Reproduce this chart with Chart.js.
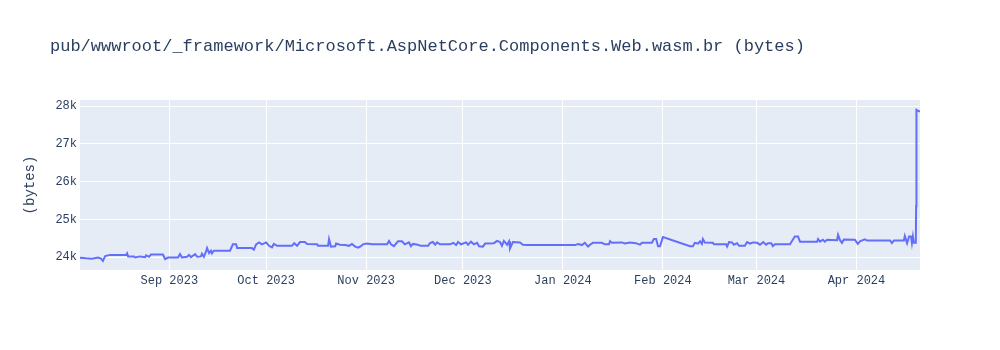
<!DOCTYPE html>
<html>
<head>
<meta charset="utf-8">
<script src="https://cdn.jsdelivr.net/npm/chart.js@4.4.1/dist/chart.umd.min.js"></script>
<style>
  body { margin: 0; background: #fff; }
</style>
</head>
<body>
<canvas id="chart-size" width="1000" height="350"></canvas>
<script>
const titleText = "pub/wwwroot/_framework/Microsoft.AspNetCore.Components.Web.wasm.br (bytes)";
const yTitle = "(bytes)";
const startDate = "2023-08-04";
const monthTicks = ["2023-09-01", "2023-10-01", "2023-11-01", "2023-12-01", "2024-01-01", "2024-02-01", "2024-03-01", "2024-04-01"];
const monthNames = ["Jan", "Feb", "Mar", "Apr", "May", "Jun", "Jul", "Aug", "Sep", "Oct", "Nov", "Dec"];
const yTicks = [24000, 25000, 26000, 27000, 28000];

// days since startDate
const days = [
  0.3, 2.2, 4, 5.9, 6.8, 7.4, 8.1, 9.6, 14.6, 14.9,
  15.2, 17, 17.4, 18.9, 20.5, 20.8, 21.7, 22.3, 26, 26.7,
  27.6, 30.7, 31.3, 31.9, 33.5, 34.1, 34.7, 36, 36.6, 37.8,
  38.1, 38.7, 39.4, 39.7, 40.3, 40.9, 41.2, 41.8, 46.8, 47.7,
  48.7, 49, 53.6, 54.2, 54.9, 55.8, 56.7, 58, 58.9, 59.8,
  60.4, 61.4, 66, 66.7, 67.6, 68.5, 70, 70.7, 73.8, 74.1,
  77.2, 77.5, 78.1, 79.4, 79.7, 80.9, 82.5, 83.7, 84.6, 85.6,
  86.5, 87.4, 88, 89.3, 90.8, 95.5, 96.1, 96.7, 97.6, 98.9,
  100.1, 101, 102.3, 102.9, 103.5, 105, 106, 108.2, 108.8, 109.7,
  110.4, 111, 111.9, 115, 116, 116.9, 117.5, 118.4, 120, 120.6,
  121.5, 122.4, 123.4, 124, 125.2, 125.9, 128.6, 129.6, 130.5, 131.1,
  131.7, 132.7, 133.3, 133.6, 134.5, 136.7, 137.6, 138.9, 153.8, 154.7,
  155.9, 156.8, 157.8, 158.4, 159.3, 162.1, 163, 164.3, 164.6, 165.2,
  168.3, 169.2, 170.8, 172.6, 173.9, 174.5, 177.6, 178.2, 178.9, 179.5,
  180.1, 181, 189.4, 190.3, 190.9, 191.9, 192.5, 193.1, 193.4, 194,
  196.5, 196.8, 200.6, 200.9, 201.5, 202.4, 203, 204, 204.6, 206.4,
  207.1, 208, 209, 210.2, 211.1, 212.1, 213, 213.6, 214.6, 215.1,
  215.7, 220.4, 221.9, 222.9, 223.5, 228.8, 229.1, 229.7, 230.6, 231.2,
  231.9, 235, 235.3, 235.9, 236.5, 237.1, 240.5, 241.4, 242.1, 243.6,
  244.3, 251.4, 252, 252.6, 255.7, 256, 256.7, 257.3, 257.9, 258.2,
  258.5, 258.8, 259.4, 259.5, 259.6, 260, 260.7
];

const sizes = [
  23985, 23970, 23960, 23990, 23960, 23900, 24030, 24060, 24060, 24100,
  24020, 24020, 23990, 24020, 24000, 24050, 24010, 24070, 24070, 23950,
  23990, 23990, 24080, 23990, 24010, 24060, 24000, 24080, 24010, 24020,
  24090, 24010, 24160, 24240, 24110, 24170, 24100, 24170, 24170, 24340,
  24340, 24240, 24240, 24200, 24340, 24390, 24340, 24390, 24300, 24260,
  24350, 24300, 24300, 24370, 24300, 24400, 24400, 24350, 24340, 24300,
  24300, 24480, 24280, 24290, 24360, 24330, 24320, 24300, 24350, 24280,
  24250, 24290, 24340, 24360, 24340, 24340, 24430, 24340, 24290, 24420,
  24420, 24340, 24390, 24290, 24350, 24330, 24300, 24300, 24370, 24400,
  24330, 24390, 24340, 24340, 24380, 24320, 24400, 24340, 24390, 24330,
  24410, 24340, 24380, 24290, 24280, 24360, 24370, 24430, 24400, 24300,
  24430, 24330, 24420, 24230, 24400, 24390, 24330, 24320, 24320, 24350,
  24320, 24380, 24280, 24330, 24380, 24380, 24340, 24340, 24420, 24380,
  24390, 24360, 24390, 24370, 24330, 24380, 24380, 24480, 24480, 24290,
  24290, 24530, 24290, 24290, 24380, 24360, 24420, 24350, 24480, 24390,
  24380, 24340, 24340, 24280, 24400, 24390, 24330, 24370, 24300, 24300,
  24400, 24360, 24390, 24380, 24330, 24400, 24330, 24370, 24370, 24290,
  24340, 24340, 24545, 24545, 24410, 24410, 24480, 24410, 24460, 24410,
  24460, 24450, 24590, 24450, 24380, 24470, 24460, 24350, 24420, 24470,
  24440, 24440, 24370, 24440, 24440, 24560, 24370, 24550, 24550, 24370,
  24550, 24380, 24380, 25350, 27900, 27880, 27850
];

const DAY = 86400000;
const t0 = Date.parse(startDate + "T00:00:00Z");
const points = days.map((d, i) => ({ x: t0 + d * DAY, y: sizes[i] }));
const tickValues = monthTicks.map((s) => Date.parse(s + "T00:00:00Z"));

const textColor = "#2a3f5f";
const fontFamily = "'Liberation Mono', 'Courier New', monospace";

const plotBackground = {
  id: "plotBackground",
  beforeDraw(chart) {
    const { ctx, chartArea } = chart;
    ctx.save();
    ctx.fillStyle = "#e5ecf6";
    ctx.fillRect(chartArea.left, chartArea.top, chartArea.right - chartArea.left, chartArea.bottom - chartArea.top);
    ctx.restore();
  },
  afterDraw(chart) {
    const { ctx, chartArea } = chart;
    ctx.save();
    ctx.fillStyle = textColor;
    ctx.font = "17px " + fontFamily;
    ctx.textBaseline = "middle";
    ctx.textAlign = "left";
    ctx.fillText(titleText, 50, 46);
    ctx.font = "14px " + fontFamily;
    ctx.translate(30, (chartArea.top + chartArea.bottom) / 2);
    ctx.rotate(-Math.PI / 2);
    ctx.textAlign = "center";
    ctx.fillText(yTitle, 0, 0);
    ctx.restore();
  },
};

const ctx = document.getElementById("chart-size").getContext("2d");
const sizeChart = new Chart(ctx, {
  type: "line",
  data: {
    datasets: [
      {
        label: "size",
        data: points,
        borderColor: "#636efa",
        borderWidth: 2,
        pointRadius: 0,
        tension: 0,
        fill: false,
      },
    ],
  },
  options: {
    responsive: false,
    animation: false,
    layout: { padding: { left: 0, right: 80, top: 100, bottom: 0 } },
    plugins: {
      legend: { display: false },
      tooltip: { enabled: false },
    },
    scales: {
      x: {
        type: "linear",
        min: t0 + 0.3 * DAY,
        max: t0 + 260.7 * DAY,
        afterFit: (scale) => { scale.height = 80; },
        afterBuildTicks: (scale) => {
          scale.ticks = tickValues.map((v) => ({ value: v }));
        },
        grid: { color: "#ffffff", lineWidth: 1, drawTicks: false },
        border: { display: false },
        ticks: {
          autoSkip: false,
          maxRotation: 0,
          padding: 4,
          color: textColor,
          font: { family: fontFamily, size: 12 },
          callback: function (value) {
            const d = new Date(value);
            return monthNames[d.getUTCMonth()] + " " + d.getUTCFullYear();
          },
        },
      },
      y: {
        min: 23660,
        max: 28160,
        afterFit: (scale) => { scale.width = 80; },
        afterBuildTicks: (scale) => {
          scale.ticks = yTicks.map((v) => ({ value: v }));
        },
        grid: { color: "#ffffff", lineWidth: 1, drawTicks: false },
        border: { display: false },
        ticks: {
          padding: 3,
          color: textColor,
          font: { family: fontFamily, size: 12 },
          callback: (value) => value / 1000 + "k",
        },
      },
    },
  },
  plugins: [plotBackground],
});
</script>
</body>
</html>
